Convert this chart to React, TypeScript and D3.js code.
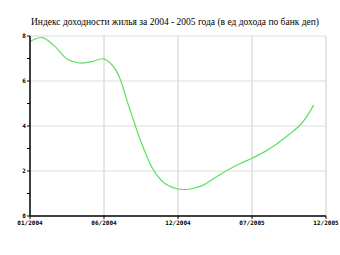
import React from "react";
import * as d3 from "d3";

const title = "Индекс доходности жилья за 2004 - 2005 года (в ед дохода по банк деп)";
const xTickLabels = ["01/2004", "06/2004", "12/2004", "07/2005", "12/2005"];
const xTickPos = [0, 6, 12, 18, 24];
const yMajor = [0, 2, 4, 6, 8];
const yMinor = [1, 3, 5, 7];
const months = d3.range(0, 24);
const values = [7.75, 7.93, 7.55, 6.98, 6.8, 6.86, 6.98, 6.45, 4.9, 3.3, 2.05, 1.42, 1.2, 1.2, 1.36, 1.7, 2.03, 2.32, 2.57, 2.85, 3.2, 3.62, 4.1, 4.93];

export default function App() {
  const W = 340, H = 255;
  const x = d3.scaleLinear().domain([0, 24]).range([30, 326]);
  const y = d3.scaleLinear().domain([0, 8]).range([216, 36]);
  const line = d3.line<number>().x((_, i) => x(months[i])).y(d => y(d)).curve(d3.curveCatmullRom.alpha(0.5));
  return (
    <svg width={W} height={H} style={{ position: "absolute", left: 0, top: 0 }}>
      <rect width={W} height={H} fill="#fff" />
      <text x={175} y={25} textAnchor="middle" fontFamily="'Liberation Serif', 'Times New Roman', 'DejaVu Serif', serif" fontSize={10} textLength={288} lengthAdjust="spacingAndGlyphs" fill="#000">{title}</text>
      {xTickPos.slice(1).map(t => (
        <line key={"gx" + t} x1={x(t)} x2={x(t)} y1={y(8)} y2={y(0)} stroke="#cccccc" strokeWidth={1} />
      ))}
      {yMajor.slice(1).map(t => (
        <line key={"gy" + t} x1={x(0)} x2={x(24)} y1={y(t)} y2={y(t)} stroke="#dddddd" strokeWidth={1} />
      ))}
      <path d={line(values) || ""} fill="none" stroke="#5ee05e" strokeWidth={1.2} />
      <line x1={x(0)} x2={x(0)} y1={y(8)} y2={y(0)} stroke="#000" strokeWidth={1.5} />
      <line x1={x(0)} x2={x(24)} y1={y(0)} y2={y(0)} stroke="#000" strokeWidth={1.5} />
      {yMajor.map(t => (
        <g key={"ym" + t}>
          <line x1={x(0) - 3} x2={x(0)} y1={y(t)} y2={y(t)} stroke="#000" />
          <text x={24} y={y(t) + 2} textAnchor="middle" fontFamily="DejaVu Sans Mono" fontWeight="bold" fontSize={6} fill="#000">{t}</text>
        </g>
      ))}
      {yMinor.map(t => (
        <line key={"yn" + t} x1={x(0) - 3} x2={x(0)} y1={y(t)} y2={y(t)} stroke="#000" />
      ))}
      {xTickPos.map((t, i) => (
        <g key={"xt" + t}>
          <line x1={x(t)} x2={x(t)} y1={y(0)} y2={y(0) + 3} stroke="#000" />
          <text x={x(t)} y={y(0) + 9} textAnchor="middle" fontFamily="DejaVu Sans Mono" fontWeight="bold" fontSize={6} fill="#000">{xTickLabels[i]}</text>
        </g>
      ))}
    </svg>
  );
}
